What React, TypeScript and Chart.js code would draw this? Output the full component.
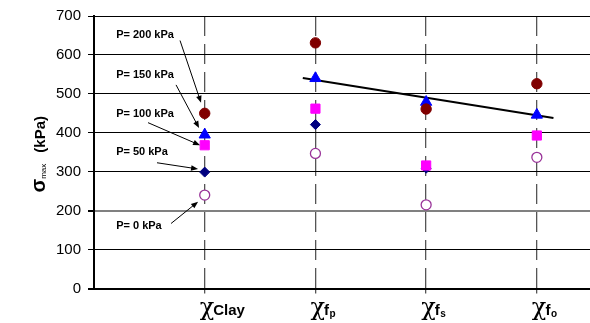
import React, { useEffect, useRef } from 'react';
import { Chart, registerables } from 'chart.js';

Chart.register(...registerables);

// ---- data ----
const categoryNames = ['Clay', 'f', 'f', 'f'];
const categorySubs = ['', 'p', 's', 'o'];
const categoryPositions = [1, 2, 3, 4];

const p200 = [450, 631, 461, 526];
const p150 = [395, 540, 479, 446];
const p100 = [368, 462, 316, 393];
const p50 = [299, 421, 309, null];
const p0 = [240, 347, 215, 337];

const trendX = [1.886, 4.15];
const trendY = [541, 438];

const yMin = 0;
const yMax = 700;
const yStep = 100;
const xMin = 0;
const xMax = 4.48;

const annotationTexts = ['P= 200 kPa', 'P= 150 kPa', 'P= 100 kPa', 'P= 50 kPa', 'P= 0 kPa'];
const annotationX = [0.2, 0.2, 0.2, 0.2, 0.2];
const annotationY = [650, 549, 449, 350, 160];
const arrowFromX = [0.777, 0.741, 0.488, 0.569, 0.696];
const arrowFromY = [637, 523, 426, 323, 167];
const arrowToX = [0.967, 0.949, 0.958, 0.94, 0.94];
const arrowToY = [477, 412, 368, 307, 223];

const FONT = "Arial, 'Liberation Sans', Helvetica, sans-serif";

const toPoints = (vals: (number | null)[]) =>
  vals.map((v, i) => ({ x: categoryPositions[i], y: v }));

const textPlugin = {
  id: 'customText',
  afterDraw(chart: any) {
    const ctx = chart.ctx as CanvasRenderingContext2D;
    const xs = chart.scales.x;
    const ys = chart.scales.y;
    const area = chart.chartArea;
    ctx.save();

    // y-axis title: sigma_max (kPa), rotated
    const cy = (area.top + area.bottom) / 2 + 2;
    ctx.translate(45, cy);
    ctx.rotate(-Math.PI / 2);
    ctx.fillStyle = '#000';
    ctx.textBaseline = 'alphabetic';
    ctx.textAlign = 'left';
    const fSig = `bold 20px ${FONT}`;
    const fSub = `8px ${FONT}`;
    const fMain = `bold 15px ${FONT}`;
    ctx.font = fSig;
    const wSig = ctx.measureText('σ').width;
    ctx.font = fSub;
    const wSub = ctx.measureText('max').width;
    ctx.font = fMain;
    const wMain = ctx.measureText('(kPa)').width;
    const gap = 11;
    const total = wSig + wSub + gap + wMain;
    let px = -total / 2;
    ctx.font = fSig;
    ctx.fillText('σ', px, 0);
    px += wSig;
    ctx.font = fSub;
    ctx.fillText('max', px, 1);
    px += wSub + gap;
    ctx.font = fMain;
    ctx.fillText('(kPa)', px, 0);
    ctx.setTransform(1, 0, 0, 1, 0, 0);

    // x category labels
    const baseY = area.bottom + 26;
    categoryPositions.forEach((pos, i) => {
      const cx = xs.getPixelForValue(pos);
      let lx = cx - 5;
      ctx.font = `24px 'DejaVu Serif', serif`;
      ctx.fillText('χ', lx, baseY);
      lx += ctx.measureText('χ').width - 1;
      ctx.font = `bold 15px ${FONT}`;
      ctx.fillText(categoryNames[i], lx, baseY);
      lx += ctx.measureText(categoryNames[i]).width + 0.5;
      if (categorySubs[i]) {
        ctx.font = `bold 10px ${FONT}`;
        ctx.fillText(categorySubs[i], lx, baseY + 2);
      }
    });

    // annotations with arrows
    ctx.font = `bold 11px ${FONT}`;
    ctx.textBaseline = 'middle';
    annotationTexts.forEach((t, i) => {
      ctx.fillStyle = '#000';
      ctx.fillText(t, xs.getPixelForValue(annotationX[i]), ys.getPixelForValue(annotationY[i]));
      const x1 = xs.getPixelForValue(arrowFromX[i]);
      const y1 = ys.getPixelForValue(arrowFromY[i]);
      const x2 = xs.getPixelForValue(arrowToX[i]);
      const y2 = ys.getPixelForValue(arrowToY[i]);
      const ang = Math.atan2(y2 - y1, x2 - x1);
      const hl = 7;
      const hw = 2.8;
      ctx.strokeStyle = '#000';
      ctx.lineWidth = 1;
      ctx.beginPath();
      ctx.moveTo(x1, y1);
      ctx.lineTo(x2 - Math.cos(ang) * hl * 0.8, y2 - Math.sin(ang) * hl * 0.8);
      ctx.stroke();
      ctx.beginPath();
      ctx.moveTo(x2, y2);
      ctx.lineTo(
        x2 - Math.cos(ang) * hl + Math.sin(ang) * hw,
        y2 - Math.sin(ang) * hl - Math.cos(ang) * hw
      );
      ctx.lineTo(
        x2 - Math.cos(ang) * hl - Math.sin(ang) * hw,
        y2 - Math.sin(ang) * hl + Math.cos(ang) * hw
      );
      ctx.closePath();
      ctx.fill();
    });
    ctx.restore();
  },
};

export default function App() {
  const canvasRef = useRef<HTMLCanvasElement | null>(null);

  useEffect(() => {
    if (!canvasRef.current) return;
    const chart = new Chart(canvasRef.current, {
      type: 'scatter',
      data: {
        datasets: [
          {
            label: 'trend',
            data: trendX.map((x, i) => ({ x, y: trendY[i] })),
            showLine: true,
            borderColor: '#000',
            borderWidth: 2,
            pointRadius: 0,
            order: 6,
          },
          {
            label: 'P=200',
            data: toPoints(p200),
            pointStyle: 'circle',
            pointRadius: 5.2,
            backgroundColor: '#800000',
            borderColor: '#800000',
            borderWidth: 1,
            order: 1,
          },
          {
            label: 'P=150',
            data: toPoints(p150),
            pointStyle: 'triangle',
            pointRadius: 6.5,
            backgroundColor: '#0000FF',
            borderColor: '#0000FF',
            borderWidth: 1,
            order: 2,
          },
          {
            label: 'P=100',
            data: toPoints(p100),
            pointStyle: 'rect',
            pointRadius: 6.5,
            backgroundColor: '#FF00FF',
            borderColor: '#FF00FF',
            borderWidth: 1,
            order: 3,
          },
          {
            label: 'P=50',
            data: toPoints(p50),
            pointStyle: 'rectRot',
            pointRadius: 5,
            backgroundColor: '#000080',
            borderColor: '#000080',
            borderWidth: 1,
            order: 4,
          },
          {
            label: 'P=0',
            data: toPoints(p0),
            pointStyle: 'circle',
            pointRadius: 5,
            backgroundColor: '#FFFFFF',
            borderColor: '#993399',
            borderWidth: 1.3,
            order: 5,
          },
        ],
      },
      options: {
        responsive: false,
        animation: false,
        events: [],
        layout: { autoPadding: false, padding: { top: 13, left: 0, right: 0, bottom: 0 } },
        plugins: {
          legend: { display: false },
          tooltip: { enabled: false },
        },
        scales: {
          x: {
            type: 'linear',
            min: xMin,
            max: xMax,
            afterBuildTicks: (s: any) => {
              s.ticks = categoryPositions.map((v) => ({ value: v }));
            },
            afterFit: (s: any) => {
              s.height = 34.5;
            },
            ticks: { display: false },
            grid: {
              color: '#555',
              lineWidth: 1.3,
              drawTicks: true,
              tickLength: 5,
              tickColor: '#555',
              tickBorderDash: [],
            },
            border: { display: false, dash: [20, 8] },
          },
          y: {
            min: yMin,
            max: yMax,
            afterFit: (s: any) => {
              s.width = 94;
            },
            ticks: {
              stepSize: yStep,
              color: '#000',
              padding: 7,
              font: { family: FONT, size: 15 },
            },
            grid: {
              color: (c: any) => (c.tick && c.tick.value === 200 ? '#808080' : '#000'),
              lineWidth: (c: any) =>
                c.tick && (c.tick.value === 200 || c.tick.value === 0) ? 2 : 1,
              tickColor: '#000',
              tickLength: 6,
            },
            border: { display: true, color: '#000', width: 2 },
          },
        },
      },
      plugins: [textPlugin],
    } as any);
    return () => chart.destroy();
  }, []);

  return (
    <div
      style={{
        position: 'fixed',
        left: 0,
        top: 0,
        width: 590,
        height: 323,
        background: '#fff',
      }}
    >
      <canvas ref={canvasRef} width={590} height={323} style={{ display: 'block' }} />
    </div>
  );
}
